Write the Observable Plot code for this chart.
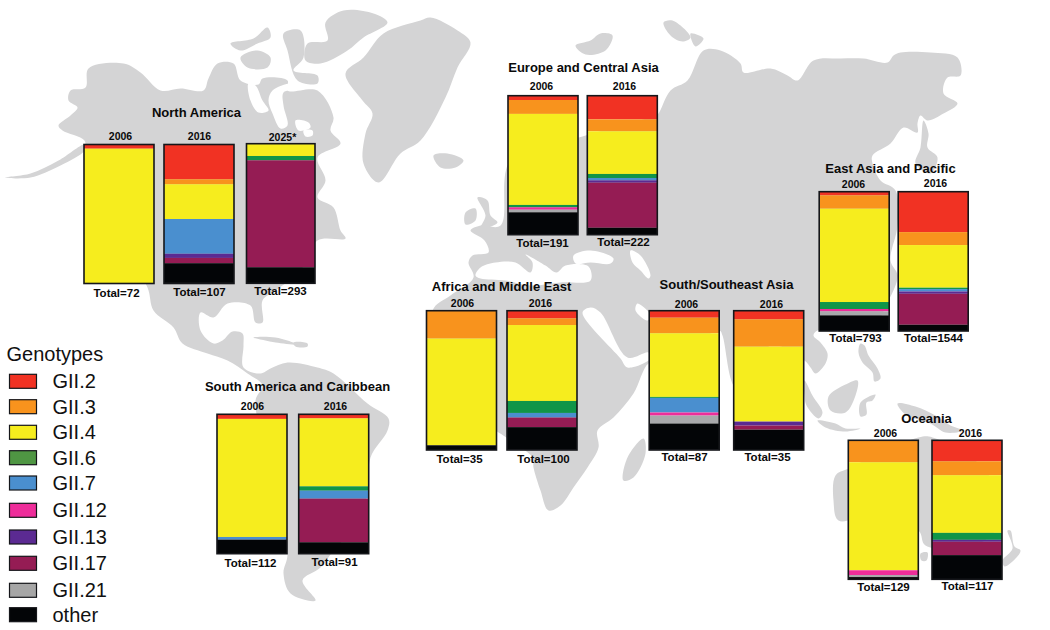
<!DOCTYPE html>
<html><head><meta charset="utf-8">
<script src="https://cdn.jsdelivr.net/npm/d3@7"></script>
<script src="https://cdn.jsdelivr.net/npm/@observablehq/plot@0.6"></script>
<style>html,body{margin:0;padding:0;background:#fff;overflow:hidden}svg{display:block}</style>
</head><body><div id="chart"></div>
<script>
const genotypes = ["GII.2","GII.3","GII.4","GII.6","GII.7","GII.12","GII.13","GII.17","GII.21","other"];
const barColors = ["#f13223","#f8931d","#f6ed1e","#109548","#4a8fcf","#ee2d9a","#5b2a92","#951c54","#a8a9ab","#030507"];
const keyColors = ["#f13223","#f8931d","#f6ed1e","#4f9643","#4a8fcf","#ee2d9a","#5b2a92","#951c54","#a6a6a6","#030507"];

const regions = ["North America","South America and Caribbean","Europe and Central Asia","Africa and Middle East","South/Southeast Asia","East Asia and Pacific","Oceania"];
const barYears  = ["2006","2016","2025*","2006","2016","2006","2016","2006","2016","2006","2016","2006","2016","2006","2016"];
const barTotals = [72,107,293,112,91,191,222,35,100,87,35,793,1544,129,117];

// Percent share of each genotype, one value per bar
const gii2  = [3,25,0,   3.3,2.9,  3.1,17,    0,5.5,    5,6.2,     2.6,29,    0,15.1];
const gii3  = [0,3.6,0,  0,0,      10,8.6,    20,4.8,   11.2,19.6, 9.6,9.3,   15.8,10];
const gii4  = [97,25,8.8,84.7,48.8,65.5,30.7, 76.6,54.5,45.7,53.8, 67,30.6,   77.7,41.5];
const gii6  = [0,0,3.1,  0,3.1,    1.7,2.9,   0,8.6,    0.7,0,     5,1,       0,5];
const gii7  = [0,25,0,   1.9,5.7,  0,1.7,     0,3.3,    10.5,0,    0,1.7,     0,0];
const gii12 = [0,0,0,    0,0,      1.7,0,     0,0,      2.2,0,     1.7,0,     3.4,0];
const gii13 = [0,3,0,    0,0,      0,1.7,     0,0,      0,2.9,     0,1.7,     0,1.4];
const gii17 = [0,3.8,76.6,0,31.3,  0,32.4,    0,6.9,    0,2.9,     0,22.2,    0,9.6];
const gii21 = [0,0,0,    0,0,      1.9,0,     0,0,      5.7,0,     2.9,0,     1.5,0];
const other = [0,14.2,11.5,10,8.1, 16,5,      3.4,16.3, 18.9,14.6, 11.2,4.5,  1.7,17.3];
const series = [gii2,gii3,gii4,gii6,gii7,gii12,gii13,gii17,gii21,other];

// Layout on the page: [left, top, width, height, year x, year y, total x, total y]
const barBoxes = [
 [84,144.5,70,139,120,136,116,293],[164,144.5,70,139,199,136,199,292],[246.5,143.7,68.5,139.6,282,137,280,291],
 [217,414.3,70,139.4,252,406,250,563],[298.7,414.3,70,139.4,335,406,334,562],
 [508,95.7,70,139,541,86.5,542,243],[587.3,95.7,70,139,624,86,623,242],
 [426.5,310.7,70,139.3,462,303,459,459],[507,310.7,70,139.3,540,303,543,459],
 [649.2,310.7,70,139.3,686,304,684,457],[733.7,310.7,70,139.3,771,304,767,457],
 [819.2,191.7,70,139.3,853,184,855,338],[898.2,191.7,70,139.3,935,183,933,338],
 [848.3,440.3,70,139,885,433,883,587],[932,440.3,70,139,970,433,967,586]
];
const regionLabels = [[196,112],[297,386],[583,67],[501,286],[726,284],[890,168],[926,418]];
const keyRows = [381.3,406.7,432.3,457.7,483,510.3,537,563.3,590.3,614.7];

// Background world map, traced outlines in picture units
const land = {
 america:[[58,125],[70,115],[77,107],[68,100],[70,90],[85,87],[88,68],[123,63],[140,72],[160,90],[180,88],[203,90],[208,78],[217,63],[233,63],[240,80],[258,84],[262,78],[287,80],[287,90],[317,90],[333,117],[330,130],[340,143],[317,157],[325,180],[317,197],[333,207],[340,230],[345,238],[317,240],[300,270],[275,290],[262,300],[262,322],[255,322],[250,305],[227,303],[213,317],[200,312],[200,330],[213,343],[222,340],[232,331],[242,333],[243,345],[243,367],[260,373],[270,368],[287,362],[317,367],[333,373],[367,403],[388,418],[387,430],[370,457],[367,493],[353,527],[333,550],[320,567],[302,580],[315,600],[290,593],[283,573],[287,553],[272,500],[262,440],[255,400],[262,385],[247,373],[227,360],[207,353],[182,343],[173,327],[153,310],[147,287],[120,240],[85,150],[84,140],[62,130]],
 aleutians:[[5,177],[30,173],[58,160],[84,144],[84,150],[60,165],[30,177]],
 banks:[[230,43],[253,38],[267,27],[270,37],[257,43],[240,50]],
 victoria:[[240,57],[257,50],[270,57],[267,67],[247,67]],
 devon:[[283,33],[300,30],[303,57],[293,70],[317,75],[317,83],[297,80],[287,50]],
 ellesmere:[[325,22],[343,10],[373,13],[387,22],[363,37],[347,50],[320,63],[305,60],[307,43],[327,40]],
 cuba:[[253,337],[275,337],[297,344],[275,342]],
 hispaniola:[[293,342],[307,343],[307,346],[295,346]],
 greenland:[[345,73],[363,57],[383,33],[420,20],[430,17],[457,30],[470,42],[457,67],[445,97],[420,140],[400,153],[378,182],[363,163],[365,133],[372,113],[362,100]],
 iceland:[[433,155],[447,153],[463,160],[455,167],[440,167]],
 britain:[[477,197],[487,200],[490,215],[497,222],[480,228],[485,215]],
 ireland:[[465,212],[475,208],[475,220],[465,224]],
 svalbard:[[575,45],[590,40],[600,33],[612,35],[605,50],[585,54]],
 zemlya:[[663,22],[672,20],[690,37],[682,41],[670,35]],
 zemlya2:[[690,33],[703,38],[695,46]],
 afroeurasia:[[510,160],[582,136],[655,115],[658,113],[670,90],[687,80],[703,50],[720,50],[740,63],[743,72],[770,68],[787,75],[797,80],[813,60],[840,58],[863,58],[887,62],[893,55],[900,52],[930,52],[957,57],[960,75],[947,77],[943,93],[957,103],[943,113],[927,120],[920,115],[917,123],[917,132],[903,127],[890,143],[872,155],[872,163],[880,180],[895,190],[897,225],[890,260],[897,275],[888,300],[870,328],[817,330],[813,335],[820,342],[827,353],[825,363],[815,373],[810,367],[804,360],[770,345],[745,395],[733,385],[722,335],[719,330],[660,362],[648,363],[633,393],[613,417],[597,430],[598,447],[587,467],[573,487],[560,505],[548,510],[540,490],[533,467],[532,457],[510,440],[495,430],[440,400],[432,310],[450,295],[473,277],[468,262],[472,255],[488,252],[484,240],[470,230],[480,225],[500,225]],
 japan:[[923,120],[928,133],[927,147],[937,157],[930,173],[915,163],[920,147]],
 sumatra:[[804,380],[812,395],[822,412],[818,418],[806,405],[804,395]],
 borneo:[[828,396],[845,384],[857,380],[855,395],[845,412],[830,410]],
 sulawesi:[[860,402],[875,394],[872,400],[866,402],[866,414],[860,416]],
 philippines:[[860,343],[864,345],[868,355],[877,368],[880,378],[874,381],[872,372],[862,362],[858,352]],
 java:[[817,420],[835,423],[845,428],[860,428],[845,431],[825,427]],
 guinea:[[897,403],[915,406],[935,415],[950,425],[963,430],[945,432],[930,423],[905,414]],
 australia:[[835,475],[848,468],[918,437],[932,437],[985,470],[1000,520],[975,545],[925,545],[918,530],[870,515],[838,520],[833,500]],
 tasmania:[[920,553],[927,552],[926,560],[921,560]],
 zealand:[[1007,530],[1010,530],[1014,546],[1020,550],[1015,558],[1004,566],[1002,560],[1012,548]],
 madagascar:[[623,480],[627,457],[643,438],[645,453],[633,477]]
};
const seas = {
 hudsonA:[[248,83],[255,85],[262,100],[268,110],[258,112],[250,100]],
 hudsonB:[[268,100],[272,90],[292,83],[295,88],[283,92],[283,105],[287,125],[280,128],[272,113]],
 hudsonC:[[295,120],[308,122],[310,127],[298,130]],
 hudsonD:[[303,130],[312,130],[312,135],[305,136]],
 mediterranean:[[475,275],[480,267],[495,262],[515,262],[530,272],[532,262],[525,254],[545,265],[556,272],[565,265],[588,266],[590,280],[560,282],[530,285],[505,280],[480,278]],
 blackSea:[[573,255],[590,250],[613,258],[610,263],[590,262],[575,263]],
 caspian:[[630,250],[640,255],[650,275],[648,278],[640,270],[632,262]],
 persianGulf:[[637,303],[650,315],[647,320],[635,310]],
 redSea:[[590,307],[600,312],[627,357],[648,352],[650,358],[627,367],[620,358],[582,312]]
};

const toRows = (outlines) => Object.entries(outlines).flatMap(([name, pts]) => pts.map(([px, py]) => ({name, px, py})));

const segments = [];
barBoxes.forEach(([left, top, w, h], b) => {
  let cum = 0;
  series.forEach((values, g) => {
    const v = values[b];
    if (v > 0) segments.push({left, right: left + w, y1: top + cum / 100 * h, y2: top + (cum + v) / 100 * h, color: barColors[g]});
    cum += v;
  });
});
const boxes = barBoxes.map(([left, top, w, h, yx, yy, tx, ty], i) => ({left, right: left + w, top, bottom: top + h, yx, yy, tx, ty, year: barYears[i], total: "Total=" + barTotals[i]}));
const titles = regions.map((name, i) => ({name, px: regionLabels[i][0], py: regionLabels[i][1]}));
const keys = genotypes.map((g, i) => ({g, py: keyRows[i], color: keyColors[i]}));

const font = "'Liberation Sans', Arial, sans-serif";
const chart = Plot.plot({
  width: 1050, height: 630, margin: 0,
  x: {domain: [0, 1050], axis: null},
  y: {domain: [630, 0], axis: null},
  color: {type: "identity"},
  style: {fontFamily: font, background: "#fff"},
  marks: [
    Plot.line(toRows(land), {x: "px", y: "py", z: "name", fill: "#d4d4d5", stroke: "none", curve: "catmull-rom-closed"}),
    Plot.line(toRows(seas), {x: "px", y: "py", z: "name", fill: "#fff", stroke: "none", curve: "catmull-rom-closed"}),
    Plot.rect(segments, {x1: "left", x2: "right", y1: "y1", y2: "y2", fill: "color"}),
    Plot.rect(boxes, {x1: "left", x2: "right", y1: "top", y2: "bottom", fill: "none", stroke: "#15161a", strokeWidth: 1.6}),
    Plot.text(titles, {x: "px", y: "py", text: "name", fontSize: 13, fontWeight: "bold", fill: "#0a0a0a"}),
    Plot.text(boxes, {x: "yx", y: "yy", text: "year", fontSize: 10.5, fontWeight: "bold", fill: "#0a0a0a"}),
    Plot.text(boxes, {x: "tx", y: "ty", text: "total", fontSize: 11.5, fontWeight: "bold", fill: "#0a0a0a"}),
    Plot.text(["Genotypes"], {x: () => 6, y: () => 354, text: d => d, textAnchor: "start", fontSize: 20, fill: "#111"}),
    Plot.rect(keys, {x1: () => 9.5, x2: () => 36.5, y1: d => d.py - 7, y2: d => d.py + 7, fill: "color", stroke: "#15161a", strokeWidth: 1.2}),
    Plot.text(keys, {x: () => 52, y: "py", text: "g", textAnchor: "start", fontSize: 20, fill: "#111"})
  ]
});
document.getElementById("chart").append(chart);
</script></body></html>
